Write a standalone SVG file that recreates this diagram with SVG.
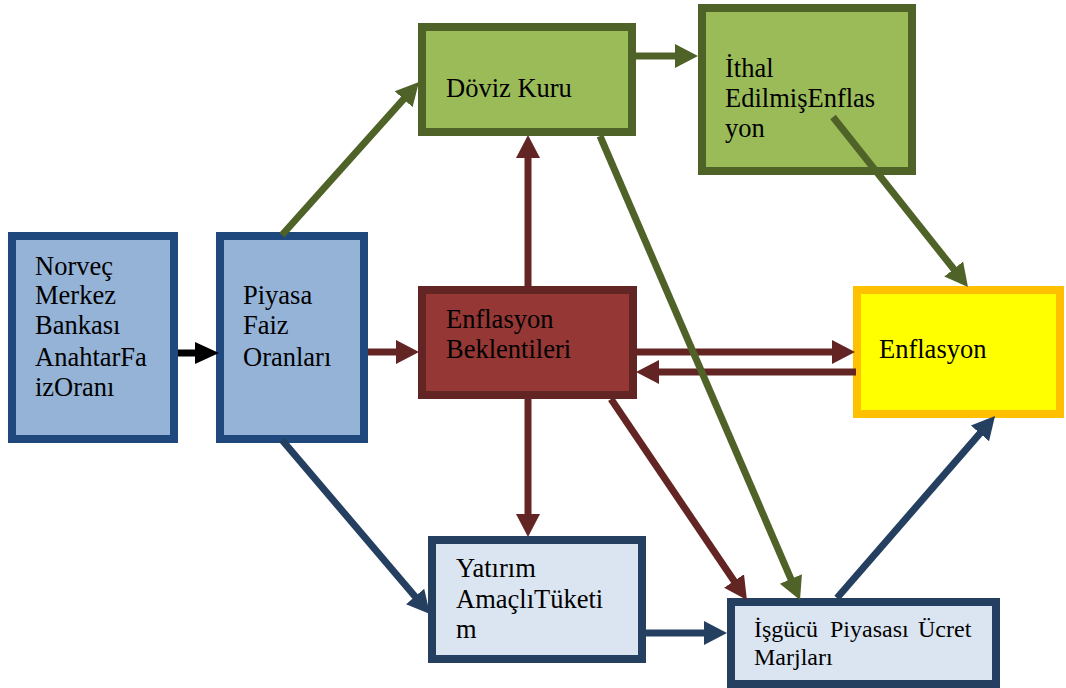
<svg xmlns="http://www.w3.org/2000/svg" width="1066" height="688" viewBox="0 0 1066 688">
  <style>
    .lbl { font-family: "Liberation Serif", "Times New Roman", serif; font-size: 26.5px; fill: #000; }
    .sm { font-size: 24px; }
    .box { stroke-width: 8; }
    .blue { fill: #95B3D7; stroke: #1F497D; }
    .green { fill: #9BBB59; stroke: #4F6228; }
    .red { fill: #953735; stroke: #632523; }
    .yellow { fill: #FFFF00; stroke: #FFC000; }
    .pale { fill: #DBE5F1; stroke: #243F60; }
    .cn { fill: none; stroke-width: 7; }
    .k { stroke: #000; marker-end: url(#hk); }
    .r { stroke: #632523; marker-end: url(#hr); }
    .g { stroke: #4F6228; marker-end: url(#hg); }
    .b { stroke: #243F60; marker-end: url(#hb); }
  </style>
  <defs>
    <marker id="hk" markerUnits="userSpaceOnUse" viewBox="0 -13 26 26" refX="1" refY="0" markerWidth="26" markerHeight="26" orient="auto"><path d="M0,-11 L24,0 L0,11 Z" fill="#000"/></marker>
    <marker id="hr" markerUnits="userSpaceOnUse" viewBox="0 -13 26 26" refX="1" refY="0" markerWidth="26" markerHeight="26" orient="auto"><path d="M0,-12 L23,0 L0,12 Z" fill="#632523"/></marker>
    <marker id="hg" markerUnits="userSpaceOnUse" viewBox="0 -13 26 26" refX="1" refY="0" markerWidth="26" markerHeight="26" orient="auto"><path d="M0,-12 L23,0 L0,12 Z" fill="#4F6228"/></marker>
    <marker id="hb" markerUnits="userSpaceOnUse" viewBox="0 -13 26 26" refX="1" refY="0" markerWidth="26" markerHeight="26" orient="auto"><path d="M0,-12 L23,0 L0,12 Z" fill="#243F60"/></marker>
  </defs>
  <rect width="1066" height="688" fill="#fff"/>

  <g id="norges-bank">
    <rect class="box blue" x="12" y="236" width="162" height="203"/>
    <text class="lbl"><tspan x="35" y="275">Norveç</tspan><tspan x="35" y="304">Merkez</tspan><tspan x="35" y="334">Bankası</tspan><tspan x="35" y="366">AnahtarFa</tspan><tspan x="35" y="396">izOranı</tspan></text>
  </g>

  <g id="market-rates">
    <rect class="box blue" x="220" y="236" width="144" height="203"/>
    <text class="lbl"><tspan x="243" y="304">Piyasa</tspan><tspan x="243" y="334">Faiz</tspan><tspan x="243" y="366">Oranları</tspan></text>
  </g>

  <g id="exchange-rate">
    <rect class="box green" x="422" y="27" width="210" height="105"/>
    <text class="lbl" x="446" y="97">Döviz Kuru</text>
  </g>

  <g id="imported-inflation">
    <rect class="box green" x="702" y="8" width="210" height="163"/>
    <text class="lbl"><tspan x="725" y="77">İthal</tspan><tspan x="725" y="107">EdilmişEnflas</tspan><tspan x="725" y="137">yon</tspan></text>
  </g>

  <g id="expectations">
    <rect class="box red" x="422" y="290" width="211" height="105"/>
    <text class="lbl"><tspan x="446" y="328">Enflasyon</tspan><tspan x="446" y="358">Beklentileri</tspan></text>
  </g>

  <g id="inflation">
    <rect class="box yellow" x="857" y="290" width="203" height="124"/>
    <text class="lbl" x="879" y="358">Enflasyon</text>
  </g>

  <g id="investment">
    <rect class="box pale" x="432" y="540" width="210" height="119"/>
    <text class="lbl"><tspan x="456" y="577">Yatırım</tspan><tspan x="456" y="608">AmaçlıTüketi</tspan><tspan x="456" y="638">m</tspan></text>
  </g>

  <g id="wage-margins">
    <rect class="box pale" x="731" y="602" width="265" height="82"/>
    <text class="lbl sm"><tspan x="754" y="637">İşgücü</tspan><tspan x="830" y="637">Piyasası</tspan><tspan x="918" y="637">Ücret</tspan><tspan x="754" y="665">Marjları</tspan></text>
  </g>

  <g id="connectors">
    <path class="cn k" d="M178,353 L196,353"/>
    <path class="cn r" d="M368,352 L397,352"/>
    <path class="cn r" d="M528,286 L528,157"/>
    <path class="cn r" d="M637,352 L833,352"/>
    <path class="cn r" d="M856,372 L658,372"/>
    <path class="cn r" d="M528,399 L528,515"/>
    <path class="cn r" d="M611,399 L734.6,581.8"/>
    <path class="cn g" d="M282,235 L404.3,98.4"/>
    <path class="cn g" d="M636,56 L676,56"/>
    <path class="cn g" d="M600,136 L791.3,579.8"/>
    <path class="cn g" d="M833,117 L954.3,269.8"/>
    <path class="cn b" d="M282,440 L415.7,597.2"/>
    <path class="cn b" d="M646,633 L705,633"/>
    <path class="cn b" d="M837,598 L980.6,432.6"/>
  </g>
</svg>
